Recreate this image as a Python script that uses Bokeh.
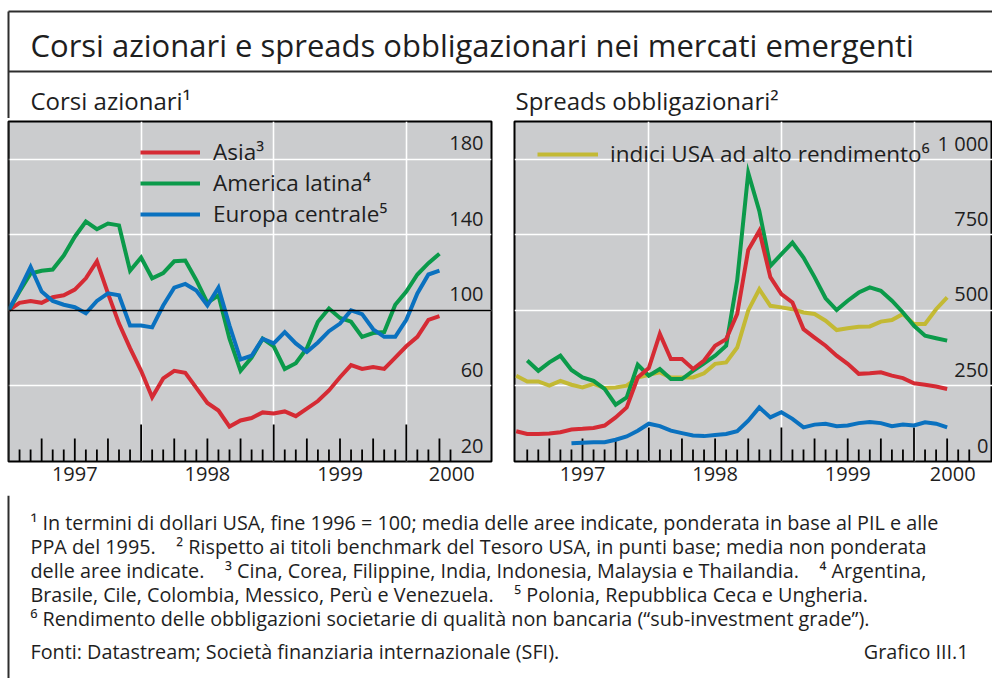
import numpy as np
import pandas as pd
from bokeh.plotting import figure
from bokeh.layouts import column, row
from bokeh.models import (Range1d, Grid, FixedTicker, LinearAxis, Span, Legend,
                          LegendItem, CustomJSTickFormatter, BoxAnnotation)
from bokeh.core.properties import value
from bokeh.embed import file_html
from bokeh.resources import INLINE

FONT = "Open Sans"
TXT = "#1e1e1e"
BG = "#cbccce"
RED = "#d52b34"
GREEN = "#0b9a4a"
BLUE = "#0a71bf"
YELLOW = "#c3b934"

# ---------------- data ----------------
months = pd.period_range("1996-12", "2000-03", freq="M")   # month ends
years = [1997, 1998, 1999, 2000]

# Left panel: stock prices (end-1996 = 100)
asia_stock = [100, 104, 105, 104, 107, 108, 111, 117, 126, 109,
              93, 80, 68, 54, 64, 68, 67, 59, 51, 47,
              38.5, 41.7, 43, 46, 45.4, 46.5, 44, 48, 52, 57.6,
              64.6, 71, 69, 70, 69, 75, 81, 86, 95, 97]
latam_stock = [100, 110, 119.5, 121, 121.6, 129, 139, 147, 143, 146,
               145, 121, 128, 117, 119.7, 126, 126.4, 116, 104, 108,
               85, 68, 75, 85, 81, 69, 72, 80, 94, 101,
               96, 94, 86, 88, 88.5, 103, 110, 119, 125, 130]
europe_stock = [100, 111, 123, 110, 105, 103, 101.7, 98.5, 105, 109,
                108, 92, 92, 91, 102.6, 112, 114, 110.5, 102.6, 112,
                92, 74, 76, 85, 82.5, 88.5, 82.5, 78, 83, 89,
                93, 100, 98, 90, 86, 86, 95, 109, 119, 121]
stock_ticks = [20, 60, 100, 140, 180]
stock_tick_labels = ["20", "60", "100", "140", "180"]

# Right panel: bond spreads (basis points)
asia_spread = [100, 91, 91, 93, 97, 106, 108, 111, 119, 146,
               179, 278, 309, 422, 339, 339, 306, 334, 383, 405,
               488, 700, 763, 610, 554, 526, 438, 410, 383, 350,
               323, 290, 292, 295, 284, 276, 259, 254, 248, 240]
latam_spread = [None, 334, 300, 328, 350, 303, 278, 267, 240, 188,
                212, 320, 284, 306, 273, 273, 300, 325, 350, 383,
                600, 955, 829, 647, 686, 724, 675, 610, 540, 501,
                532, 559, 576, 565, 532, 493, 449, 416, 408, 400]
europe_spread = [None, None, None, None, None, 60, 62, 64, 64, 72,
                 83, 102, 125, 117, 102, 94, 86, 84, 88, 91,
                 100, 135, 179, 146, 163, 141, 113, 122, 125, 117,
                 119, 127, 131, 127, 117, 122, 119, 130, 125, 113]
us_hy_spread = [284, 265, 265, 251, 267, 254, 245, 257, 243, 245,
                251, 278, 287, 295, 278, 278, 278, 292, 323, 328,
                377, 500, 570, 515, 510, 504, 493, 488, 466, 435,
                441, 446, 447, 463, 468, 488, 455, 455, 504, 543]
spread_ticks = [0, 250, 500, 750, 1000]
spread_tick_labels = ["0", "250", "500", "750", "1 000"]

title = "Corsi azionari e spreads obbligazionari nei mercati emergenti"
sub_left = "Corsi azionari¹"
sub_right = "Spreads obbligazionari²"
leg_left = ["Asia³", "America latina⁴", "Europa centrale⁵"]
leg_right = ["indici USA ad alto rendimento⁶"]
GAP = "\u00a0\u00a0\u00a0 "   # wide gap between footnotes (not collapsed)
notes = [
    "¹ In termini di dollari USA, fine 1996 = 100; media delle aree indicate, ponderata in base al PIL e alle",
    "PPA del 1995." + GAP + "² Rispetto ai titoli benchmark del Tesoro USA, in punti base; media non ponderata",
    "delle aree indicate." + GAP + "³ Cina, Corea, Filippine, India, Indonesia, Malaysia e Thailandia." + GAP + "⁴ Argentina,",
    "Brasile, Cile, Colombia, Messico, Perù e Venezuela." + GAP + "⁵ Polonia, Repubblica Ceca e Ungheria.",
    "⁶ Rendimento delle obbligazioni societarie di qualità non bancaria (“sub-investment grade”).",
]
source = "Fonti: Datastream; Società finanziaria internazionale (SFI)."
chart_id = "Grafico III.1"

# ---------------- helpers ----------------
t = np.array([m.year + m.month / 12.0 for m in months])


def arr(v):
    return np.array([np.nan if x is None else x for x in v], dtype=float)


PX_YR = 132.6
W_TOTAL = 992
H_HEAD = 118
H_CHART = 377
H_FOOT = 678 - H_HEAD - H_CHART
FRAME_H = 340
LINE_W = 4
EDGE = "#2e2e2e"


def chart(width, bl, br, x_start, frame_w, y0, y1, ticks, tick_labels, n_ticks, label_dx, year_tick_px):
    x_end = x_start + frame_w / PX_YR
    p = figure(width=width, height=H_CHART, x_range=Range1d(x_start, x_end),
               y_range=Range1d(y0, y1), x_axis_type=None, y_axis_type=None,
               output_backend="svg", toolbar_location=None,
               min_border_left=bl, min_border_right=br, min_border_top=3,
               min_border_bottom=H_CHART - 3 - FRAME_H)
    p.background_fill_color = BG
    p.border_fill_color = "white"
    p.outline_line_color = "black"
    p.outline_line_width = 2
    p.add_layout(Grid(dimension=0, ticker=FixedTicker(ticks=years[1:]),
                      grid_line_color="white", grid_line_width=1.6))
    p.add_layout(Grid(dimension=1, ticker=FixedTicker(ticks=ticks[1:]),
                      grid_line_color="white", grid_line_width=1.6))
    # month / quarter / year ticks rising from the bottom of the frame
    unit = (y1 - y0) / FRAME_H
    tx, ty1 = [], []
    for i in range(1, n_ticks + 1):
        tx.append(years[0] + i / 12.0)
        if i % 12 == 0:
            ln = year_tick_px
        elif i % 3 == 0:
            ln = 23
        else:
            ln = 12
        ty1.append(y0 + ln * unit)
    p.segment(x0=tx, y0=[y0] * len(tx), x1=tx, y1=ty1, line_color="black", line_width=1.8)
    # value labels inside the frame, above the grid lines
    p.text(x=[x_end] * len(ticks), y=ticks, text=tick_labels, text_align="right",
           text_baseline="alphabetic", x_offset=label_dx, y_offset=-16,
           text_font=value(FONT), text_font_size="20px", text_color=TXT)
    # year labels
    pos = [y + 0.5 if y + 0.5 < x_end - 0.3 else x_end - 0.3 for y in years]
    ax = LinearAxis(ticker=FixedTicker(ticks=pos),
                    formatter=CustomJSTickFormatter(code="return String(Math.floor(tick))"),
                    axis_line_color=None, major_tick_line_color=None, minor_tick_line_color=None,
                    major_tick_in=0, major_tick_out=0, major_label_standoff=5,
                    major_label_text_font=FONT, major_label_text_font_size="20px",
                    major_label_text_color=TXT)
    p.add_layout(ax, "below")
    return p


# ---------------- header (page coordinates) ----------------
head = figure(width=W_TOTAL, height=H_HEAD, x_range=Range1d(0, W_TOTAL), y_range=Range1d(H_HEAD, 0),
              x_axis_type=None, y_axis_type=None, output_backend="svg", toolbar_location=None,
              min_border=0)
head.outline_line_color = None
head.segment(x0=[8, 8, 8], y0=[11, 71, 11], x1=[W_TOTAL, W_TOTAL, 8], y1=[11, 71, H_HEAD],
             line_color=EDGE, line_width=2)
head.text(x=[30], y=[44], text=[title], text_baseline="middle", text_font=value(FONT),
          text_font_size="31px", text_color=TXT)
head.text(x=[30, 515], y=[100, 100], text=[sub_left, sub_right], text_baseline="middle",
          text_font=value(FONT), text_font_size="24px", text_color=TXT)

# ---------------- left chart ----------------
pl = chart(504, 8, 13, 1997.0, 483, 20, 200, stock_ticks, stock_tick_labels, 40, -8, 37)
pl.add_layout(Span(location=100, dimension="width", line_color="black", line_width=1.5))
r1 = pl.line(t, arr(asia_stock), line_color=RED, line_width=LINE_W, line_join="miter")
r2 = pl.line(t, arr(latam_stock), line_color=GREEN, line_width=LINE_W, line_join="miter")
r3 = pl.line(t, arr(europe_stock), line_color=BLUE, line_width=LINE_W, line_join="miter")
legl = Legend(items=[LegendItem(label=leg_left[0], renderers=[r1]),
                     LegendItem(label=leg_left[1], renderers=[r2]),
                     LegendItem(label=leg_left[2], renderers=[r3])],
              location=(132, 232), glyph_width=60, glyph_height=30, label_height=30,
              label_standoff=13, spacing=0, padding=0, margin=0,
              background_fill_alpha=0, border_line_color=None,
              label_text_font=FONT, label_text_font_size="22.5px", label_text_color=TXT)
pl.add_layout(legl)
pl.add_layout(BoxAnnotation(left=-1, right=1, bottom=-40, top=FRAME_H + 5,
                            left_units="screen", right_units="screen",
                            top_units="screen", bottom_units="screen",
                            fill_color=EDGE, fill_alpha=1, line_color=None))

# ---------------- right chart ----------------
pr = chart(488, 10, 0, 1997.0 - 1.7 / PX_YR, 478, 0, 1125, spread_ticks, spread_tick_labels, 41, -4, 34)
r4 = pr.line(t, arr(us_hy_spread), line_color=YELLOW, line_width=LINE_W, line_join="miter")
pr.line(t, arr(latam_spread), line_color=GREEN, line_width=LINE_W, line_join="miter")
pr.line(t, arr(asia_spread), line_color=RED, line_width=LINE_W, line_join="miter")
pr.line(t, arr(europe_spread), line_color=BLUE, line_width=LINE_W, line_join="miter")
legr = Legend(items=[LegendItem(label=leg_right[0], renderers=[r4])],
              location=(23, 292), glyph_width=61, glyph_height=30, label_height=30,
              label_standoff=12, spacing=0, padding=0, margin=0,
              background_fill_alpha=0, border_line_color=None,
              label_text_font=FONT, label_text_font_size="22.5px", label_text_color=TXT)
pr.add_layout(legr)

# ---------------- footer (page coordinates) ----------------
y_top = 678 - H_FOOT
foot = figure(width=W_TOTAL, height=H_FOOT, x_range=Range1d(0, W_TOTAL), y_range=Range1d(678, y_top),
              x_axis_type=None, y_axis_type=None, output_backend="svg", toolbar_location=None,
              min_border=0)
foot.outline_line_color = None
foot.segment(x0=[8], y0=[y_top], x1=[8], y1=[678], line_color=EDGE, line_width=2)
kw = dict(text_baseline="middle", text_font=value(FONT), text_font_size="19.8px", text_color=TXT)
note_y = [522 + 24 * i for i in range(len(notes))]
foot.text(x=[30] * len(notes), y=note_y, text=notes, **kw)
foot.text(x=[30], y=[651], text=[source], **kw)
foot.text(x=[968], y=[651], text=[chart_id], text_align="right", **kw)

layout = column(head, row(pl, pr), foot)
open("out.html", "w").write(file_html(layout, INLINE))
